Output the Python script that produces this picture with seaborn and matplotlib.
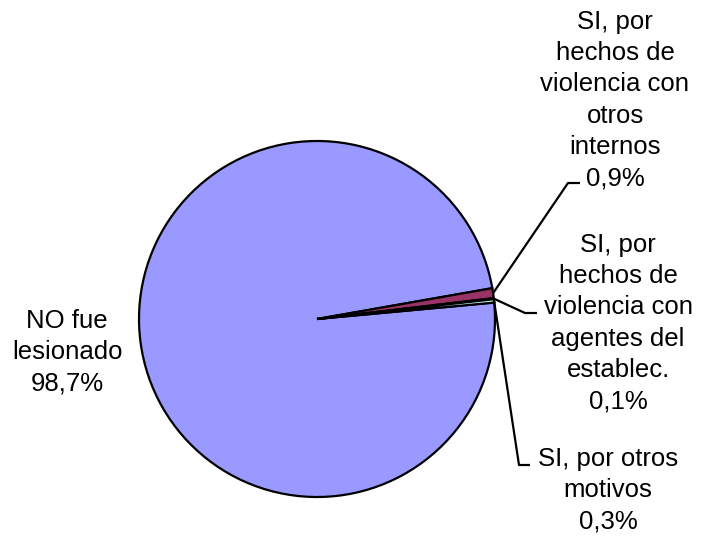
import numpy as np
import matplotlib
matplotlib.use("Agg")
import matplotlib.pyplot as plt
import seaborn as sns

sns.set_theme(style="white")
plt.rcParams['font.family'] = ['Liberation Sans', 'DejaVu Sans']

categories = ["NO fue\nlesionado",
              "SI, por\nhechos de\nviolencia con\notros\ninternos",
              "SI, por\nhechos de\nviolencia con\nagentes del\nestablec.",
              "SI, por otros\nmotivos"]
values = [98.7, 0.9, 0.1, 0.3]
value_labels = ["98,7%", "0,9%", "0,1%", "0,3%"]
colors = ["#9999FF", "#993366", "#FFFFCC", "#CCFFFF"]

W, H = 710, 536
fig = plt.figure(figsize=(7.10, 5.36), dpi=100)
ax = fig.add_axes([0, 0, 1, 1])
ax.set_xlim(0, W)
ax.set_ylim(0, H)
ax.set_aspect('equal')
ax.axis('off')

cx, cy, R = 317, H - 319, 178
start = 5.3
wedges, _ = ax.pie(values, colors=colors, startangle=start, counterclock=False,
                   center=(cx, cy), radius=R,
                   wedgeprops=dict(edgecolor='black', linewidth=1.6))
ax.set_xlim(0, W)
ax.set_ylim(0, H)

# labels (pixel coords from top)
label_pos = [(67, 352), (615, 100), (618, 323), (608, 490)]
for cat, vl, (x, y) in zip(categories, value_labels, label_pos):
    ax.text(x, H - y, cat + "\n" + vl, ha='center', va='center',
            fontsize=18.5, linespacing=1.38, color='black')

# leader lines
def edge_point(w):
    a = np.deg2rad((w.theta1 + w.theta2) / 2)
    return cx + R * np.cos(a), cy + R * np.sin(a)

leaders = {1: [(568, 183), (580, 183)],
           2: [(525, 313), (537, 313)],
           3: [(519, 465), (530, 465)]}
for i, pts in leaders.items():
    x0, y0 = edge_point(wedges[i])
    xs = [x0] + [p[0] for p in pts]
    ys = [y0] + [H - p[1] for p in pts]
    ax.plot(xs, ys, color='black', lw=1.6, solid_capstyle='butt')

fig.savefig("out.png", dpi=100, facecolor='white')
